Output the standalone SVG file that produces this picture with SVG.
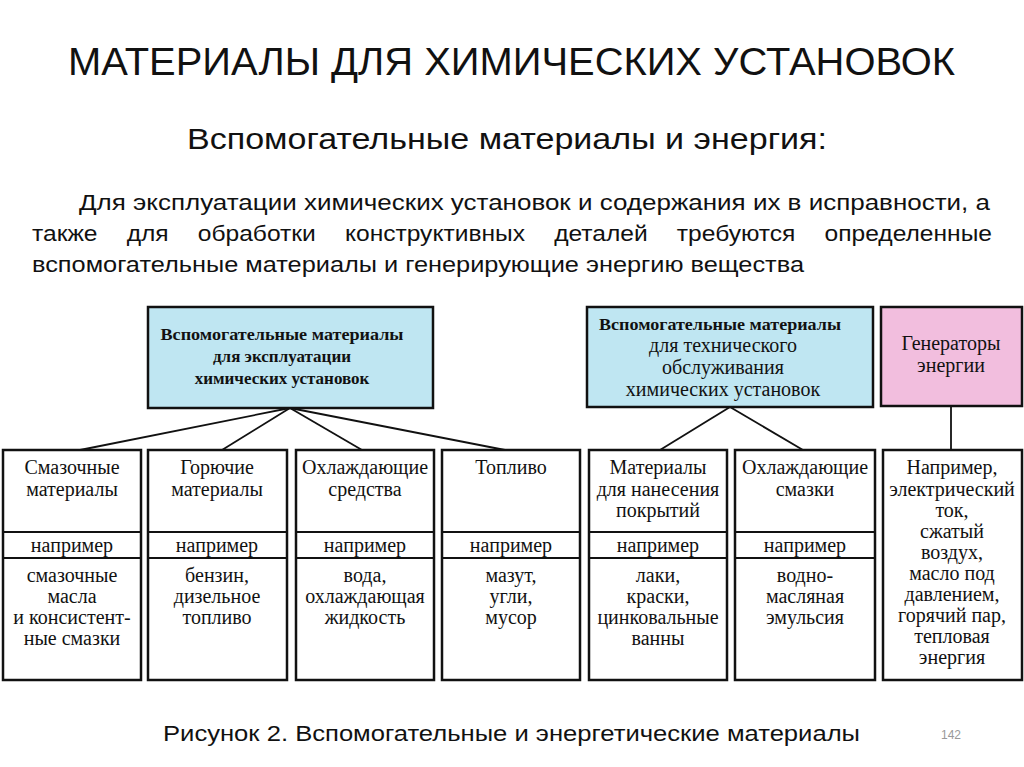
<svg xmlns="http://www.w3.org/2000/svg" width="1024" height="767" viewBox="0 0 1024 767">
<style>
.h{font-family:"Liberation Sans",Arial,sans-serif;fill:#111}
.s{font-family:"Liberation Serif","Times New Roman",serif;font-size:20px;fill:#111;text-anchor:middle}
.b{font-weight:bold;font-size:17px}
.box{fill:#fff;stroke:#111;stroke-width:2.5}
.c line{stroke:#111;stroke-width:1.8}
</style>
<rect width="1024" height="767" fill="#fff"/>
<text class="h" x="68" y="75" font-size="38" textLength="887" lengthAdjust="spacingAndGlyphs">МАТЕРИАЛЫ ДЛЯ ХИМИЧЕСКИХ УСТАНОВОК</text>
<text class="h" x="187" y="149" font-size="30" textLength="640" lengthAdjust="spacingAndGlyphs">Вспомогательные материалы и энергия:</text>
<text class="h" x="79" y="210" font-size="22" textLength="911" lengthAdjust="spacingAndGlyphs">Для эксплуатации химических установок и содержания их в исправности, а</text>
<text class="h" x="32" y="241" font-size="22" word-spacing="20" textLength="960" lengthAdjust="spacingAndGlyphs">также для обработки конструктивных деталей требуются определенные</text>
<text class="h" x="32" y="272" font-size="22" textLength="772" lengthAdjust="spacingAndGlyphs">вспомогательные материалы и генерирующие энергию вещества</text>
<text class="h" x="163" y="741" font-size="22" textLength="697" lengthAdjust="spacingAndGlyphs">Рисунок 2. Вспомогательные и энергетические материалы</text>
<text class="h" x="951" y="739" font-size="12" text-anchor="middle" style="fill:#999">142</text>
<g class="c">
<line x1="290" y1="408" x2="80" y2="450"/><line x1="290" y1="408" x2="222" y2="450"/>
<line x1="290" y1="408" x2="362" y2="450"/><line x1="290" y1="408" x2="505" y2="450"/>
<line x1="730" y1="407" x2="660" y2="450"/><line x1="730" y1="407" x2="803" y2="450"/>
<line x1="951" y1="406" x2="951" y2="450"/>
</g>
<g id="p1"><rect x="148" y="307" width="285" height="101" fill="#bfe6f2" stroke="#111" stroke-width="2.5"/>
<text class="s b" x="282" y="340" textLength="243" lengthAdjust="spacingAndGlyphs">Вспомогательные материалы</text><text class="s b" x="282" y="362" font-size="18">для эксплуатации</text><text class="s b" x="282" y="384" font-size="18">химических установок</text></g>
<g id="p2"><rect x="587" y="307" width="286" height="100" fill="#bfe6f2" stroke="#111" stroke-width="2.5"/>
<text class="s b" x="720" y="330" textLength="242" lengthAdjust="spacingAndGlyphs">Вспомогательные материалы</text><text class="s" x="723" y="352" font-size="18">для технического</text><text class="s" x="723" y="374" font-size="18">обслуживания</text><text class="s" x="723" y="396" font-size="18">химических установок</text></g>
<g id="p3"><rect x="881" y="307" width="141" height="99" fill="#f2bede" stroke="#111" stroke-width="2.5"/>
<text class="s" x="951" y="350" font-size="18">Генераторы</text><text class="s" x="951" y="372" font-size="18">энергии</text></g>
<g id="n1"><rect class="box" x="3" y="450" width="138" height="230"/><line x1="3" y1="532" x2="141" y2="532" stroke="#111" stroke-width="2"/><line x1="3" y1="558" x2="141" y2="558" stroke="#111" stroke-width="2"/>
<text class="s" x="72" y="474">Смазочные</text><text class="s" x="72" y="496">материалы</text><text class="s" x="72" y="552">например</text>
<text class="s" x="72" y="582">смазочные</text><text class="s" x="72" y="603">масла</text><text class="s" x="72" y="624">и консистент-</text><text class="s" x="72" y="645">ные смазки</text></g>
<g id="n2"><rect class="box" x="148" y="450" width="139" height="230"/><line x1="148" y1="532" x2="287" y2="532" stroke="#111" stroke-width="2"/><line x1="148" y1="558" x2="287" y2="558" stroke="#111" stroke-width="2"/>
<text class="s" x="217" y="474">Горючие</text><text class="s" x="217" y="496">материалы</text><text class="s" x="217" y="552">например</text>
<text class="s" x="217" y="582">бензин,</text><text class="s" x="217" y="603">дизельное</text><text class="s" x="217" y="624">топливо</text></g>
<g id="n3"><rect class="box" x="296" y="450" width="138" height="230"/><line x1="296" y1="532" x2="434" y2="532" stroke="#111" stroke-width="2"/><line x1="296" y1="558" x2="434" y2="558" stroke="#111" stroke-width="2"/>
<text class="s" x="365" y="474" font-size="19">Охлаждающие</text><text class="s" x="365" y="496">средства</text><text class="s" x="365" y="552">например</text>
<text class="s" x="365" y="582">вода,</text><text class="s" x="365" y="603" font-size="19">охлаждающая</text><text class="s" x="365" y="624">жидкость</text></g>
<g id="n4"><rect class="box" x="442" y="450" width="138" height="230"/><line x1="442" y1="532" x2="580" y2="532" stroke="#111" stroke-width="2"/><line x1="442" y1="558" x2="580" y2="558" stroke="#111" stroke-width="2"/>
<text class="s" x="511" y="474">Топливо</text><text class="s" x="511" y="552">например</text>
<text class="s" x="511" y="582">мазут,</text><text class="s" x="511" y="603">угли,</text><text class="s" x="511" y="624">мусор</text></g>
<g id="n5"><rect class="box" x="589" y="450" width="138" height="230"/><line x1="589" y1="532" x2="727" y2="532" stroke="#111" stroke-width="2"/><line x1="589" y1="558" x2="727" y2="558" stroke="#111" stroke-width="2"/>
<text class="s" x="658" y="474">Материалы</text><text class="s" x="658" y="496">для нанесения</text><text class="s" x="658" y="517">покрытий</text><text class="s" x="658" y="552">например</text>
<text class="s" x="658" y="582">лаки,</text><text class="s" x="658" y="603">краски,</text><text class="s" x="658" y="624" font-size="19">цинковальные</text><text class="s" x="658" y="645">ванны</text></g>
<g id="n6"><rect class="box" x="735" y="450" width="140" height="230"/><line x1="735" y1="532" x2="875" y2="532" stroke="#111" stroke-width="2"/><line x1="735" y1="558" x2="875" y2="558" stroke="#111" stroke-width="2"/>
<text class="s" x="805" y="474" font-size="19">Охлаждающие</text><text class="s" x="805" y="496">смазки</text><text class="s" x="805" y="552">например</text>
<text class="s" x="805" y="582">водно-</text><text class="s" x="805" y="603">масляная</text><text class="s" x="805" y="624">эмульсия</text></g>
<g id="n7"><rect class="box" x="883" y="450" width="139" height="230"/>
<text class="s" x="952" y="474">Например,</text><text class="s" x="952" y="496">электрический</text><text class="s" x="952" y="517">ток,</text><text class="s" x="952" y="538">сжатый</text><text class="s" x="952" y="559">воздух,</text><text class="s" x="952" y="580">масло под</text><text class="s" x="952" y="601">давлением,</text><text class="s" x="952" y="622">горячий пар,</text><text class="s" x="952" y="643">тепловая</text><text class="s" x="952" y="664">энергия</text></g>
</svg>
